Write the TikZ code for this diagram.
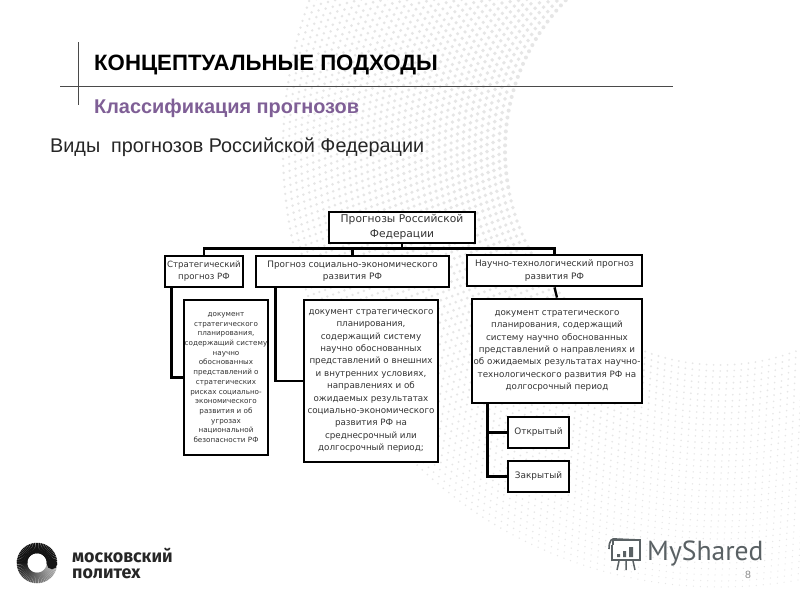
\documentclass[tikz,border=0pt]{standalone}
\usepackage{fontspec}
\setmainfont{Liberation Sans}
\newfontfamily\boxfont{DejaVu Sans}
\newfontfamily\logofont{Fira Sans}
\newfontfamily\sharedfont{PT Sans}
\usetikzlibrary{positioning}
\definecolor{dotgray}{HTML}{E6E6E6}
\definecolor{headpurple}{HTML}{7F5F96}
\definecolor{rulegray}{HTML}{4A4A4A}
\definecolor{sharedgray}{HTML}{5A6164}

\begin{document}
\begin{tikzpicture}[
        x=1pt,y=-1pt,on grid,
        boxnode/.style={draw=black,line width=2.8pt,fill=white,align=center,inner sep=0pt,
            text=black!80,font=\boxfont\fontsize{8.9}{12.2}\selectfont},
        smalldoc/.style={boxnode,font=\boxfont\fontsize{7.2}{9.7}\selectfont},
        middoc/.style={boxnode,font=\boxfont\fontsize{8.75}{12.4}\selectfont},
        link/.style={draw=black,line width=2.4pt},
        headrule/.style={draw=rulegray,line width=1pt},
        headtext/.style={anchor=west,inner sep=0pt}
        ]

        \useasboundingbox (0,0) rectangle (800,600);
        \fill[white] (0,0) rectangle (800,600);

        \begin{scope}
        \clip (0,0) rectangle (800,600);
        \foreach \ringno in {0,...,37} {
            \pgfmathsetmacro\ringrad{215+6*\ringno}
            \pgfmathsetmacro\angstep{401/\ringrad}
            \pgfmathtruncatemacro\dotcount{172/\angstep}
            \pgfmathsetmacro\angstart{60+mod(\ringno,2)*\angstep/2}
            \foreach \k in {0,...,\dotcount} {
                \pgfmathsetmacro\ang{\angstart+\k*\angstep}
                \pgfmathsetmacro\dotrad{(0.95+1.05*min(1,max(0,(\ang-100)/70)))*(1-0.35*\ringno/37)}
                \fill[dotgray] ({720+\ringrad*cos(\ang)},{150+\ringrad*sin(\ang)}) circle[radius=\dotrad];
            }
        }
        \end{scope}

        \draw[headrule] (78.5,42) -- (78.5,105);
        \draw[headrule] (60,86) -- (673,86);

        \node[headtext,font=\bfseries\fontsize{22.2}{24}\selectfont] (title) at (94,65) {КОНЦЕПТУАЛЬНЫЕ ПОДХОДЫ};
        \node[headtext,text=headpurple,font=\bfseries\fontsize{19.9}{22}\selectfont] (subtitle) at (94,108) {Классификация прогнозов};
        \node[headtext,text=black!85,font=\fontsize{19.8}{22}\selectfont] (kinds) at (50,147) {Виды\ \ прогнозов Российской Федерации};

        \node[boxnode,minimum width=146pt,minimum height=31pt,font=\boxfont\fontsize{10.7}{15}\selectfont] (root) at (402,227.5) {Прогнозы Российской\\Федерации};
        \node[boxnode,minimum width=78pt,minimum height=31pt,font=\boxfont\fontsize{8.6}{12.2}\selectfont]  (strat)  [below left=44pt and 198pt of root]    {Стратегический\\прогноз РФ};
        \node[boxnode,minimum width=193pt,minimum height=31pt] (socio)  [below left=44pt and 49.5pt of root]   {Прогноз социально-экономического\\развития РФ};
        \node[boxnode,minimum width=175pt,minimum height=31pt] (sci)    [below right=43pt and 152.5pt of root] {Научно-технологический прогноз\\развития РФ};

        \node[smalldoc,minimum width=84pt,minimum height=155pt] (doc1) [below right=106pt and 22pt of strat]
            {документ\\стратегического\\планирования,\\содержащий систему\\научно\\обоснованных\\представлений о\\стратегических\\рисках социально-\\экономического\\развития и об\\угрозах\\национальной\\безопасности РФ};
        \node[middoc,minimum width=134pt,minimum height=162pt] (doc2) [below right=109.5pt and 18.5pt of socio]
            {документ стратегического\\планирования,\\содержащий систему\\научно обоснованных\\представлений о внешних\\и внутренних условиях,\\направлениях и об\\ожидаемых результатах\\социально-экономического\\развития РФ на\\среднесрочный или\\долгосрочный период;};
        \node[middoc,minimum width=170pt,minimum height=104pt] (doc3) [below right=80.5pt and 2.5pt of sci]
            {документ стратегического\\планирования, содержащий\\систему научно обоснованных\\представлений о направлениях и\\об ожидаемых результатах научно-\\технологического развития РФ на\\долгосрочный период};

        \node[boxnode,minimum width=61pt,minimum height=31pt] (open)   [below left=81.5pt and 18.5pt of doc3] {Открытый};
        \node[boxnode,minimum width=61pt,minimum height=31pt] (closed) [below=44pt of open]                   {Закрытый};

        \draw[link] (strat.north) -- ++(0,-6) -| (root.south);
        \draw[link] (socio.north) -- ++(0,-6) -| (root.south);
        \draw[link] (sci.north)   -- ++(0,-5) -| (root.south);
        \draw[link] (sci.south) -- (doc3.north);
        \draw[link] ([xshift=8pt]strat.south west) |- (doc1.west);
        \draw[link] ([xshift=21pt]socio.south west) |- (doc2.west);
        \draw[link] ([xshift=17pt]doc3.south west) |- (open.west);
        \draw[link] ([xshift=17pt]doc3.south west) |- (closed.west);

        \foreach \segno in {0,...,35} {
            \pgfmathsetmacro\segshade{30+\segno*1.8}
            \draw[black!\segshade!white,line width=10.5pt] ({37+15*cos(10+\segno*5)},{563+15*sin(10+\segno*5)}) -- ({37+15*cos(15.6+\segno*5)},{563+15*sin(15.6+\segno*5)});
        }
        \foreach \segno in {0,...,36} {
            \draw[black!92,line width=10.5pt] ({37+15*cos(180+\segno*5)},{563+15*sin(180+\segno*5)}) -- ({37+15*cos(185.6+\segno*5)},{563+15*sin(185.6+\segno*5)});
        }
        \fill[black!92] (52,564) circle[radius=5.25];

        \node[headtext,align=left,font=\logofont\bfseries\fontsize{17.9}{16.5}\selectfont,text=black!85] (logo) at (72,563.5) {московский\\политех};

        \draw[sharedgray,line width=1.6pt,fill=white] (613,545) -- (613,540) -- (640,540) -- (640,560) -- (612,560) -- (612,545);
        \draw[sharedgray,line width=1.6pt] (609,549) .. controls (609,540) and (612,538) .. (616,539) -- (640,540);
        \fill[sharedgray] (617,554) rectangle (620,557) (623,551) rectangle (626,557) (629,547) rectangle (633,557);
        \draw[sharedgray,line width=1.5pt] (619,561) -- (617,570) (626,561) -- (626,570) (633,561) -- (635,570);
        \node[headtext,text=sharedgray,font=\sharedfont\fontsize{27.6}{30}\selectfont] (shared) at (647,553) {MyShared};
        \node[inner sep=0pt,text=black!45,font=\fontsize{10.5}{11}\selectfont] (pageno) at (748,574.5) {8};
      \end{tikzpicture}
\end{document}
